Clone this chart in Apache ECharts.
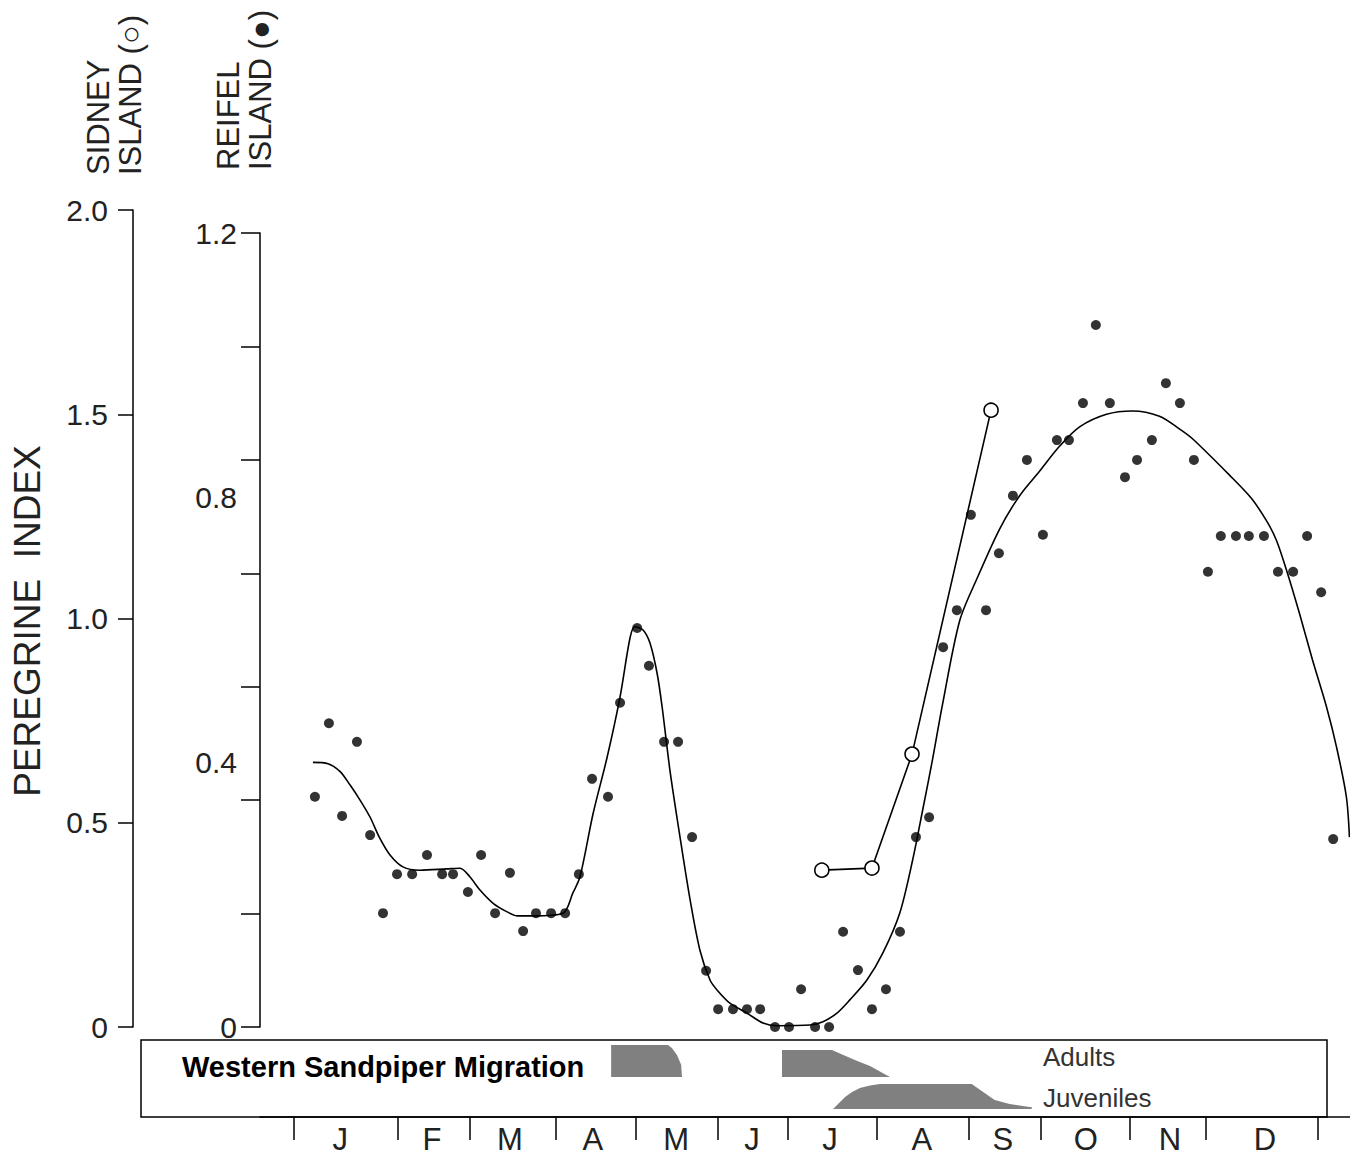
<!DOCTYPE html>
<html>
<head>
<meta charset="utf-8">
<script src="https://cdn.jsdelivr.net/npm/echarts@6/dist/echarts.min.js"></script>
<style>html,body{margin:0;padding:0;background:#fff}#c{width:1350px;height:1156px}</style>
</head>
<body>
<div id="c"></div>
<script>
// ---- data (x in day-of-year) ----
const monthTicks = [0.1, 37.3, 63.0, 93.6, 122.1, 151.4, 176.4, 208.2, 241.0, 266.7, 298.4, 325.6, 365.4];
const monthCenters = [16.6, 49.4, 77.2, 106.8, 136.5, 163.6, 191.4, 224.2, 253.1, 282.7, 312.7, 346.6];
const monthLetters = ['J','F','M','A','M','J','J','A','S','O','N','D'];
const sidneyTicks = [0, 0.5, 1.0, 1.5, 2.0];
const reifelLabelValues = [0, 0.4, 0.8, 1.2];
const reifelTickValues = [0, 0.1714, 0.3429, 0.5143, 0.6857, 0.8571, 1.0286, 1.2];

const reifelDots = [
 [7.6,0.348],[12.6,0.459],[17.3,0.319],[22.6,0.431],[27.3,0.290],[31.9,0.172],[36.9,0.231],[42.3,0.231],
 [47.6,0.260],[53.0,0.231],[56.9,0.231],[62.2,0.204],[66.9,0.260],[71.9,0.172],[77.2,0.233],[81.9,0.145],
 [86.5,0.172],[91.9,0.172],[96.9,0.172],[101.8,0.231],[106.5,0.375],[112.2,0.348],[116.5,0.490],[122.6,0.603],
 [126.8,0.546],[132.2,0.431],[137.2,0.431],[142.2,0.287],[147.2,0.085],[151.5,0.027],[156.8,0.027],[161.8,0.027],
 [166.5,0.027],[171.8,0.0],[176.8,0.0],[181.1,0.057],[186.1,0.0],[191.1,0.0],[196.1,0.144],[201.4,0.086],
 [206.4,0.027],[211.4,0.057],[216.4,0.144],[222.1,0.287],[226.8,0.317],[231.8,0.574],[236.7,0.630],[241.7,0.774],
 [247.1,0.630],[251.7,0.716],[256.7,0.803],[261.7,0.857],[267.4,0.744],[272.4,0.887],[276.7,0.887],[281.7,0.943],
 [286.3,1.061],[291.3,0.943],[296.7,0.831],[301.0,0.857],[306.3,0.887],[311.3,0.973],[316.3,0.943],[321.3,0.857],
 [326.3,0.688],[330.9,0.742],[336.3,0.742],[340.9,0.742],[346.3,0.742],[351.3,0.688],[356.7,0.688],[361.7,0.742],
 [366.7,0.657],[371.0,0.284]
];

const reifelCurve = [
 [6.9,0.400],[12.3,0.398],[16.6,0.386],[20.1,0.366],[23.7,0.343],[27.3,0.317],[30.8,0.285],[34.4,0.260],
 [39.0,0.242],[45.1,0.237],[54.7,0.239],[59.4,0.240],[62.9,0.227],[66.5,0.207],[71.2,0.187],[76.2,0.174],
 [79.7,0.168],[85.4,0.168],[96.1,0.172],[99.7,0.203],[102.2,0.227],[106.9,0.323],[111.9,0.408],[116.5,0.499],
 [120.1,0.589],[121.8,0.605],[124.7,0.600],[127.2,0.580],[129.7,0.535],[131.5,0.484],[134.3,0.388],[137.9,0.287],
 [141.5,0.192],[145.0,0.116],[148.6,0.071],[151.1,0.056],[155.7,0.036],[161.8,0.021],[167.5,0.006],[172.5,0.002],
 [184.3,0.003],[188.9,0.008],[193.9,0.021],[198.5,0.041],[204.6,0.071],[210.3,0.112],[216.3,0.172],[220.9,0.252],
 [224.5,0.328],[228.0,0.404],[231.6,0.488],[237.7,0.614],[243.8,0.677],[252.0,0.753],[259.1,0.803],[266.2,0.840],
 [273.4,0.878],[280.5,0.907],[290.1,0.926],[299.4,0.931],[309.0,0.923],[316.1,0.904],[320.8,0.889],[334.0,0.834],
 [341.8,0.799],[347.5,0.763],[350.7,0.736],[354.3,0.691],[358.9,0.626],[363.6,0.555],[368.6,0.484],[372.2,0.423],
 [375.7,0.348],[376.8,0.287]
];

const sidneyPoints = [[188.5,0.384],[206.4,0.389],[220.7,0.668],[248.9,1.510]];

const adultsSpring = [[113.3,0],[113.3,1],[133.6,1],[135.0,0.91],[136.8,0.69],[138.3,0.38],[138.6,0]];
const adultsFall = [[174.3,0],[174.3,0.84],[192.1,0.84],[200.3,0.53],[205.7,0.34],[212.8,0]];
const juveniles = [[192.5,0],[194.3,0.2],[196.8,0.48],[199.3,0.68],[202.1,0.84],[205.7,0.94],[209.2,1],
 [242.0,1],[246.6,0.64],[250.2,0.36],[255.5,0.2],[262.7,0.08],[263.4,0.08],[263.4,0]];

// ---- chart ----
const FONT = "'Liberation Sans', Arial, sans-serif";
const xMin = -12, xMax = 377;
const G_LEFT = 260, G_W = 1090;
const hiddenX = i => ({type:'value', gridIndex:i, min:xMin, max:xMax, show:false});
const hiddenY = i => ({type:'value', gridIndex:i, min:0, max:1, show:false});
const axisLineStyle = {color:'#000', width:1.5};

const chart = echarts.init(document.getElementById('c'), null, {renderer:'svg'});
chart.setOption({
  animation:false,
  backgroundColor:'#fff',
  grid:[
    {left:G_LEFT, top:210, width:G_W, height:817},
    {left:G_LEFT, top:233, width:G_W, height:794},
    {left:G_LEFT, top:1045, width:G_W, height:32},
    {left:G_LEFT, top:1084, width:G_W, height:25},
    {left:141, top:1040, width:1186, height:77, show:true, borderColor:'#000', borderWidth:1.5, backgroundColor:'transparent'}
  ],
  xAxis:[
    hiddenX(0),
    {type:'value', gridIndex:1, min:xMin, max:xMax, position:'bottom', offset:90,
     axisLine:{show:true, onZero:false, lineStyle:axisLineStyle},
     axisTick:{show:true, length:23, customValues:monthTicks, lineStyle:axisLineStyle},
     axisLabel:{show:true, customValues:monthCenters, margin:7, fontSize:31, color:'#222', fontFamily:FONT,
       formatter:v=>{const i=monthCenters.indexOf(v); return i>=0?monthLetters[i]:'';}},
     splitLine:{show:false}},
    hiddenX(2), hiddenX(3), hiddenX(4)
  ],
  yAxis:[
    {type:'value', gridIndex:0, min:0, max:2, interval:0.5, position:'left', offset:127,
     axisLine:{show:true, onZero:false, lineStyle:axisLineStyle},
     axisTick:{show:true, length:15, lineStyle:axisLineStyle},
     axisLabel:{margin:25, fontSize:30, color:'#222', fontFamily:FONT, formatter:v=>v===0?'0':v.toFixed(1)},
     splitLine:{show:false}},
    {type:'value', gridIndex:1, min:0, max:1.2, position:'left',
     axisLine:{show:true, onZero:false, lineStyle:axisLineStyle},
     axisTick:{show:true, length:19, customValues:reifelTickValues, lineStyle:axisLineStyle},
     axisLabel:{margin:23, fontSize:30, color:'#222', fontFamily:FONT, customValues:reifelLabelValues,
       formatter:v=>v===0?'0':v.toFixed(1)},
     splitLine:{show:false}},
    hiddenY(2), hiddenY(3), hiddenY(4)
  ],
  series:[
    {type:'line', name:'Reifel fit', xAxisIndex:1, yAxisIndex:1, data:reifelCurve, smooth:0.3, showSymbol:false,
     lineStyle:{color:'#000', width:1.6}, z:2},
    {type:'scatter', name:'Reifel Island', xAxisIndex:1, yAxisIndex:1, data:reifelDots, symbol:'circle', symbolSize:10,
     itemStyle:{color:'#000'}, z:3},
    {type:'line', name:'Sidney Island', xAxisIndex:0, yAxisIndex:0, data:sidneyPoints, smooth:false,
     symbol:'circle', symbolSize:14, showSymbol:true,
     lineStyle:{color:'#000', width:1.6}, itemStyle:{color:'#fff', borderColor:'#000', borderWidth:1.6}, z:4},
    {type:'line', name:'Adults spring', xAxisIndex:2, yAxisIndex:2, data:adultsSpring, showSymbol:false,
     lineStyle:{width:0, opacity:0}, areaStyle:{color:'#808080', opacity:1}},
    {type:'line', name:'Adults fall', xAxisIndex:2, yAxisIndex:2, data:adultsFall, showSymbol:false,
     lineStyle:{width:0, opacity:0}, areaStyle:{color:'#808080', opacity:1}},
    {type:'line', name:'Juveniles', xAxisIndex:3, yAxisIndex:3, data:juveniles, showSymbol:false,
     lineStyle:{width:0, opacity:0}, areaStyle:{color:'#808080', opacity:1}},
    {type:'scatter', xAxisIndex:4, yAxisIndex:4, data:[], silent:true}
  ],
  graphic:[
    {type:'text', x:114, y:175, rotation:Math.PI/2,
     style:{text:'SIDNEY\nISLAND (○)', font:'31px '+FONT, fill:'#222', textAlign:'left', textVerticalAlign:'middle', lineHeight:32}},
    {type:'text', x:244, y:170, rotation:Math.PI/2,
     style:{text:'REIFEL\nISLAND (●)', font:'31px '+FONT, fill:'#222', textAlign:'left', textVerticalAlign:'middle', lineHeight:32}},
    {type:'text', x:27, y:621, rotation:Math.PI/2,
     style:{text:'PEREGRINE  INDEX', font:'37px '+FONT, fill:'#222', textAlign:'center', textVerticalAlign:'middle'}},
    {type:'text', x:182, y:1067,
     style:{text:'Western Sandpiper Migration', font:'bold 29px '+FONT, fill:'#000', textAlign:'left', textVerticalAlign:'middle'}},
    {type:'text', x:1043, y:1057,
     style:{text:'Adults', font:'26px '+FONT, fill:'#333', textAlign:'left', textVerticalAlign:'middle'}},
    {type:'text', x:1043, y:1098,
     style:{text:'Juveniles', font:'26px '+FONT, fill:'#333', textAlign:'left', textVerticalAlign:'middle'}}
  ]
});
</script>
</body>
</html>
